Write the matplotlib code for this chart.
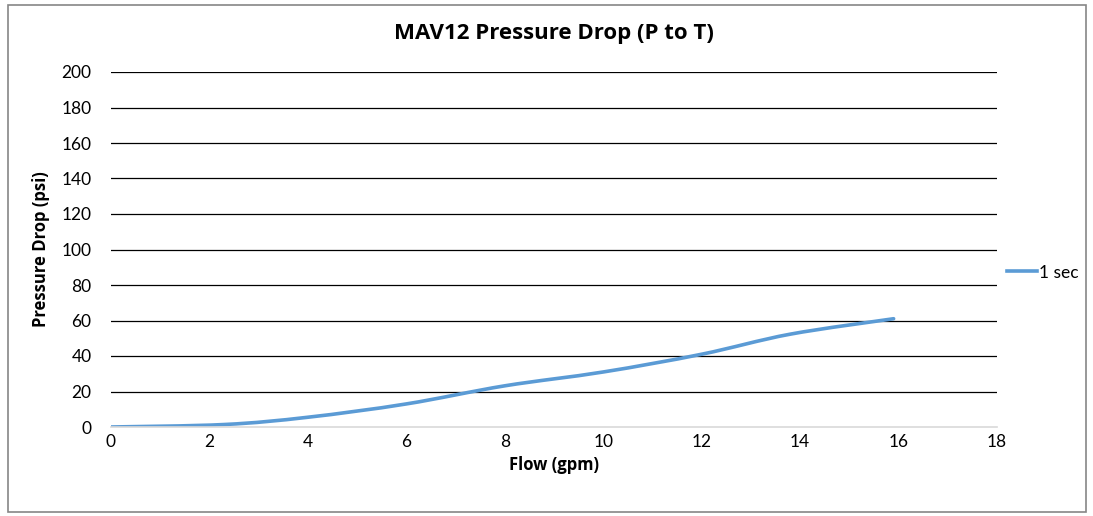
import numpy as np
from matplotlib import pyplot as plt
from matplotlib.path import Path
from matplotlib.patches import PathPatch, Rectangle
from matplotlib.lines import Line2D

plt.rcParams['font.family'] = ['Lato', 'DejaVu Sans']

# values
flow_gpm = [0.0, 2.3, 4.0, 6.0, 8.0, 10.0, 12.0, 13.8, 15.9]
drop_psi = [0.0, 1.4, 5.5, 13.0, 23.2, 31.0, 41.0, 52.3, 61.0]
series_name = '1 sec'
x_ticks = list(range(0, 19, 2))
y_ticks = list(range(0, 201, 20))

line_color = '#5b9bd5'
bold_font = ['Open Sans', 'DejaVu Sans']


def smooth_path(xs, ys):
    # Excel style smoothed line: Catmull-Rom through the points as cubic Beziers
    pts = np.column_stack([xs, ys])
    verts = [pts[0]]
    codes = [Path.MOVETO]
    n = len(pts)
    for i in range(n - 1):
        p0 = pts[max(i - 1, 0)]
        p1 = pts[i]
        p2 = pts[i + 1]
        p3 = pts[min(i + 2, n - 1)]
        c1 = p1 + (p2 - p0) / 6.0
        c2 = p2 - (p3 - p1) / 6.0
        verts += [c1, c2, p2]
        codes += [Path.CURVE4] * 3
    return Path(verts, codes)


fig = plt.figure(figsize=(10.93, 5.16), dpi=100)
ax = fig.add_axes([111 / 1093, 1 - 427 / 516, (997 - 111) / 1093, (427 - 72) / 516])

fig.patches.append(Rectangle((8 / 1093, 4 / 516), 1078 / 1093, 507 / 516,
                             transform=fig.transFigure, fill=False,
                             edgecolor='#868686', lw=1.2))

ax.add_patch(PathPatch(smooth_path(flow_gpm, drop_psi), facecolor='none',
                       edgecolor=line_color, lw=2.6, capstyle='round'))

ax.set_xlim(0, 18)
ax.set_ylim(0, 200)
ax.set_xticks(x_ticks)
ax.set_yticks(y_ticks)
ax.tick_params(length=0, labelsize=12.5, pad=5)
ax.tick_params(axis='y', pad=14)
for yv in y_ticks[1:]:
    ax.axhline(yv, color='black', lw=0.9, zorder=0)
for s in ['top', 'right', 'left']:
    ax.spines[s].set_visible(False)
ax.spines['bottom'].set_color('#d9d9d9')
ax.spines['bottom'].set_linewidth(1.2)

ax.set_title('MAV12 Pressure Drop (P to T)', fontsize=16, fontweight='bold',
             family=bold_font, pad=24)
ax.set_xlabel('Flow (gpm)', fontsize=12, fontweight='bold', family=bold_font, labelpad=4)
ax.set_ylabel('Pressure Drop (psi)', fontsize=12, fontweight='bold', family=bold_font,
              labelpad=8)

handle = Line2D([], [], color=line_color, lw=2.6)
ax.legend([handle], [series_name], loc='center left', bbox_to_anchor=(1.004, 0.435),
          frameon=False, fontsize=12.5, handlelength=1.7, handletextpad=0.1,
          borderaxespad=0)

plt.savefig('out.png', dpi=100)
